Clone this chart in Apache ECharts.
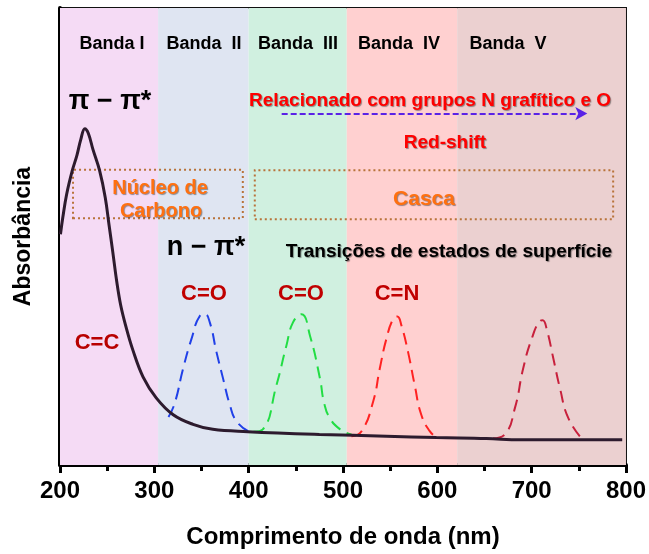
<!DOCTYPE html>
<html>
<head>
<meta charset="utf-8">
<style>html,body{margin:0;padding:0;background:#fff;}#chart{width:649px;height:554px;}</style>
<script src="https://cdn.jsdelivr.net/npm/echarts@6/dist/echarts.min.js"></script>
</head>
<body>
<div id="chart"></div>
<script>
// ---- data ----
var xTicks = [200, 300, 400, 500, 600, 700, 800];
var bandNames = ['Banda I', 'Banda  II', 'Banda  III', 'Banda  IV', 'Banda  V'];
var bandEdges = [200, 304, 400, 504, 621, 800];
var bandColors = ['#f5dbf5', '#dfe5f2', '#d0f0e0', '#ffd0d0', '#ebd0d0'];

var mainCurve = [[200.5,50.5],[203,54.2],[207,59.2],[213,64.4],[218,67.8],[222,71.2],[226.3,73.6],[230,72.6],[235,69.0],[242,64.4],[248,58.5],[252,52.5],[255.9,46.7],[260.1,40.2],[264.3,35.0],[269.6,30.5],[277,25.3],[288,19.3],[302,14.7],[320,11.0],[341,8.9],[362,7.8],[399,7.3],[475,6.7],[546,6.3],[599,6.0],[652,5.8],[688,5.5],[796,5.5]];
var bandCO1 = [[315,10.5],[321.6,13.5],[330.5,21.1],[339.4,27.6],[348.2,32.6],[353.5,33.0],[358.8,31.2],[365.9,24.7],[372.9,18.9],[380,13.2],[387,9.6],[399.4,7.4]];
var bandCO2 = [[405,7.3],[415,7.8],[429.5,17.5],[440,26.1],[447,31.2],[456,33.0],[465,28.3],[475.6,18.9],[480,13.6],[486,10.3],[497,7.8],[509,6.7]];
var bandCN = [[509,6.3],[519.7,7.4],[532,13.9],[539,21.1],[546,27.6],[553,31.9],[557.5,32.5],[562,30.5],[569,24.7],[576,17.5],[583,11.0],[592,7.4],[599,6.1]];
var bandV = [[659,5.8],[671.7,6.7],[682.3,12.5],[691,21.1],[700,27.6],[708.8,31.5],[711.7,31.7],[716,29.7],[723,23.3],[730,16.8],[738.8,10.3],[753,5.8]];

var boxCore = [[213.8, 54.0], [393.8, 64.6]];
var boxShell = [[406.5, 53.8], [786.4, 64.5]];
var redShiftArrow = [[435, 76.9], [759, 76.9]];

// ---- chart ----
var FONT = "'Liberation Sans', Arial, sans-serif";
var chart = echarts.init(document.getElementById('chart'));

var bgAreas = [];
for (var i = 0; i < bandNames.length; i++) {
  bgAreas.push([{xAxis: bandEdges[i], yAxis: 0, itemStyle: {color: bandColors[i]}}, {xAxis: bandEdges[i+1], yAxis: 100}]);
}

function dashed(data, color) {
  return {type: 'line', data: data, smooth: true, showSymbol: false, symbol: 'none', z: 3,
    lineStyle: {color: color, width: 2, type: [12, 7]}, silent: true};
}

var shadow = {textShadowColor: 'rgba(0,0,0,0.4)', textShadowBlur: 1, textShadowOffsetX: 1, textShadowOffsetY: 1};
function txt(text, x, y, size, color, extra) {
  var s = {text: text, x: x, y: y, align: 'center', verticalAlign: 'middle', fill: color,
    font: 'bold ' + size + 'px ' + FONT};
  if (extra) for (var k in extra) s[k] = extra[k];
  return {type: 'text', z: 10, style: s};
}

var bandLabelX = [112, 204, 298, 399, 508];
var graphics = [];
for (var j = 0; j < bandNames.length; j++) graphics.push(txt(bandNames[j], bandLabelX[j], 44, 18, '#000'));
graphics.push(txt('π − π*', 110, 102, 27, '#000'));
graphics.push(txt('n − π*', 206, 248, 27, '#000'));
graphics.push(txt('Relacionado com grupos N grafítico e O', 430, 101, 19, '#ff0000', shadow));
graphics.push(txt('Red-shift', 445, 143, 19, '#ff0000', shadow));
graphics.push(txt('Núcleo de', 160, 188, 20, '#ff7010', shadow));
graphics.push(txt('Carbono', 161, 211, 20, '#ff7010', shadow));
graphics.push(txt('Casca', 424, 199, 21, '#ff7010', shadow));
graphics.push(txt('Transições de estados de superfície', 449, 252, 19, '#000', shadow));
graphics.push(txt('C=O', 204, 294, 22, '#c00000'));
graphics.push(txt('C=O', 301, 294, 22, '#c00000'));
graphics.push(txt('C=N', 397, 294, 22, '#c00000'));
graphics.push(txt('C=C', 97, 343, 22, '#b80000'));

chart.setOption({
  animation: false,
  backgroundColor: '#fff',
  textStyle: {fontFamily: FONT},
  grid: {left: 60, right: 22, top: 8, bottom: 82, show: true, borderColor: '#111', borderWidth: 2, containLabel: false},
  xAxis: {
    type: 'value', min: 200, max: 800, interval: 100,
    name: 'Comprimento de onda (nm)', nameLocation: 'middle', nameGap: 60,
    nameTextStyle: {fontSize: 24, fontWeight: 'bold', color: '#000', fontFamily: FONT},
    axisLine: {lineStyle: {color: '#000', width: 4}},
    axisTick: {length: 8, lineStyle: {color: '#000', width: 3}},
    minorTick: {show: true, splitNumber: 2, length: 6, lineStyle: {color: '#000', width: 3}},
    splitLine: {show: false},
    axisLabel: {fontSize: 24, fontWeight: 'bold', color: '#000', margin: 14, fontFamily: FONT,
      formatter: function (v) { return xTicks.indexOf(v) >= 0 ? String(v) : ''; }}
  },
  yAxis: {
    type: 'value', min: 0, max: 100,
    name: 'Absorbância', nameLocation: 'middle', nameRotate: 90, nameGap: 25,
    nameTextStyle: {fontSize: 23, fontWeight: 'bold', color: '#000', fontFamily: FONT},
    axisLine: {show: true, lineStyle: {color: '#000', width: 4}},
    axisTick: {show: false}, axisLabel: {show: false}, splitLine: {show: false}
  },
  graphic: graphics,
  series: [
    {type: 'line', data: [], z: 1, silent: true,
      markArea: {silent: true, itemStyle: {opacity: 1}, data: bgAreas}},
    {type: 'line', data: [], z: 4, silent: true,
      markArea: {silent: true, itemStyle: {color: 'rgba(0,0,0,0)', borderColor: '#b8733a', borderWidth: 2, borderType: [2, 3]},
        data: [[{coord: boxCore[0]}, {coord: boxCore[1]}], [{coord: boxShell[0]}, {coord: boxShell[1]}]]},
      markLine: {silent: true, symbol: ['none', 'arrow'], symbolSize: [10, 12], label: {show: false},
        lineStyle: {color: '#5a22e6', width: 2, type: [6, 3]},
        data: [[{coord: redShiftArrow[0]}, {coord: redShiftArrow[1]}]]}},
    dashed(bandCO1, '#2040e8'),
    dashed(bandCO2, '#22dd44'),
    dashed(bandCN, '#ff2222'),
    dashed(bandV, '#c8203c'),
    {type: 'line', data: mainCurve, smooth: 0.4, showSymbol: false, symbol: 'none', z: 5, silent: true,
      lineStyle: {color: '#2d1b2e', width: 3}}
  ]
});
</script>
</body>
</html>
